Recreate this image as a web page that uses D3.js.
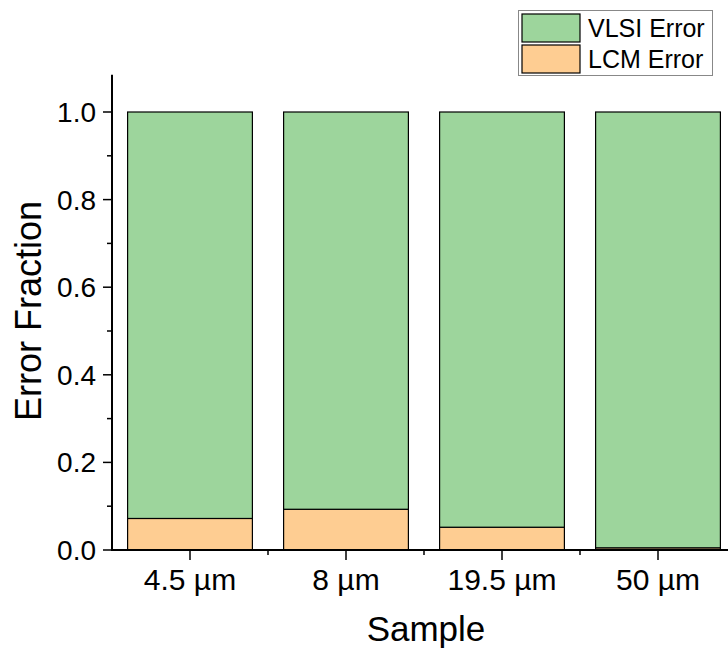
<!DOCTYPE html>
<html>
<head>
<meta charset="utf-8">
<script src="https://cdn.jsdelivr.net/npm/d3@7"></script>
<style>
  body { margin: 0; background: #fff; }
  text { font-family: "Liberation Sans", Arial, sans-serif; fill: #000; }
</style>
</head>
<body>
<div id="chart"></div>
<script>
var svgWidth = 728;
var svgHeight = 648;

// data
var samples = ["4.5 µm", "8 µm", "19.5 µm", "50 µm"];
var lcmError = [0.072, 0.093, 0.052, 0.005];
var vlsiError = [0.928, 0.907, 0.948, 0.995];
var yTicks = [0, 0.2, 0.4, 0.6, 0.8, 1.0];
var seriesNames = ["VLSI Error", "LCM Error"];
var colors = { "VLSI Error": "#9dd59c", "LCM Error": "#fecd92" };

var svg = d3.select("#chart")
  .append("svg")
  .attr("width", svgWidth)
  .attr("height", svgHeight);

// x: category index, 0.5 .. 4.5 (plot runs off the right edge)
var xScale = d3.scaleLinear()
  .domain([0.5, 4.5])
  .range([112, 736]);

var yScale = d3.scaleLinear()
  .domain([0, 1])
  .range([550, 112]);
var yTop = 1.085;

var barW = (xScale(1) - xScale(0)) * 0.8;

// stacked bars
var rows = samples.map(function(s, i) {
  return { sample: s, idx: i + 1, lcm: lcmError[i], vlsi: vlsiError[i] };
});
var stack = d3.stack().keys(["lcm", "vlsi"]);
var layers = stack(rows);
var layerColor = [colors["LCM Error"], colors["VLSI Error"]];

var barGroup = svg.append("g");
layers.forEach(function(layer, li) {
  barGroup.selectAll(null)
    .data(layer)
    .enter()
    .append("rect")
    .attr("x", d => xScale(d.data.idx) - barW / 2)
    .attr("width", barW)
    .attr("y", d => yScale(d[1]))
    .attr("height", d => yScale(d[0]) - yScale(d[1]))
    .attr("fill", layerColor[li])
    .attr("stroke", "#000")
    .attr("stroke-width", 1.2);
});

// y axis
var yAxisG = svg.append("g")
  .attr("transform", "translate(112,0)");
yAxisG.append("line")
  .attr("x1", 0).attr("x2", 0)
  .attr("y1", yScale(0)).attr("y2", yScale(yTop))
  .attr("stroke", "#000").attr("stroke-width", 2);
var yMinor = d3.range(0.1, 1.1, 0.2);
yAxisG.selectAll(".ymin")
  .data(yMinor)
  .enter().append("line")
  .attr("x1", -5).attr("x2", 0)
  .attr("y1", d => yScale(d)).attr("y2", d => yScale(d))
  .attr("stroke", "#000").attr("stroke-width", 1.5);
yAxisG.selectAll(".ymaj")
  .data(yTicks)
  .enter().append("line")
  .attr("x1", -9).attr("x2", 0)
  .attr("y1", d => yScale(d)).attr("y2", d => yScale(d))
  .attr("stroke", "#000").attr("stroke-width", 1.5);
yAxisG.selectAll(".ylab")
  .data(yTicks)
  .enter().append("text")
  .attr("x", -16)
  .attr("y", d => yScale(d))
  .attr("dy", "0.36em")
  .attr("text-anchor", "end")
  .style("font-size", "28px")
  .text(d => d3.format(".1f")(d));

// x axis
var xAxisG = svg.append("g")
  .attr("transform", "translate(0," + yScale(0) + ")");
xAxisG.append("line")
  .attr("x1", 111).attr("x2", svgWidth)
  .attr("y1", 0).attr("y2", 0)
  .attr("stroke", "#000").attr("stroke-width", 2);
xAxisG.selectAll(".xmaj")
  .data(rows)
  .enter().append("line")
  .attr("x1", d => xScale(d.idx)).attr("x2", d => xScale(d.idx))
  .attr("y1", 0).attr("y2", 10)
  .attr("stroke", "#000").attr("stroke-width", 1.5);
xAxisG.selectAll(".xmin")
  .data([1.5, 2.5, 3.5])
  .enter().append("line")
  .attr("x1", d => xScale(d)).attr("x2", d => xScale(d))
  .attr("y1", 0).attr("y2", 5)
  .attr("stroke", "#000").attr("stroke-width", 1.5);
xAxisG.selectAll(".xlab")
  .data(rows)
  .enter().append("text")
  .attr("x", d => xScale(d.idx))
  .attr("y", 40)
  .attr("text-anchor", "middle")
  .style("font-size", "30px")
  .text(d => d.sample);

// axis titles
svg.append("text")
  .attr("x", 426)
  .attr("y", 641)
  .attr("text-anchor", "middle")
  .style("font-size", "35px")
  .text("Sample");

svg.append("text")
  .attr("transform", "translate(41,311) rotate(-90)")
  .attr("text-anchor", "middle")
  .style("font-size", "36px")
  .text("Error Fraction");

// legend
var legend = svg.append("g");
legend.append("rect")
  .attr("x", 518.5).attr("y", 10.5)
  .attr("width", 194).attr("height", 65)
  .attr("fill", "#fff")
  .attr("stroke", "#888").attr("stroke-width", 1);
var legendItems = legend.selectAll(".item")
  .data(seriesNames)
  .enter().append("g")
  .attr("transform", (d, i) => "translate(522," + (14 + i * 31) + ")");
legendItems.append("rect")
  .attr("width", 58).attr("height", 28)
  .attr("fill", d => colors[d])
  .attr("stroke", "#000").attr("stroke-width", 1.2);
legendItems.append("text")
  .attr("x", 66)
  .attr("y", 23)
  .style("font-size", "25px")
  .text(d => d);
</script>
</body>
</html>
